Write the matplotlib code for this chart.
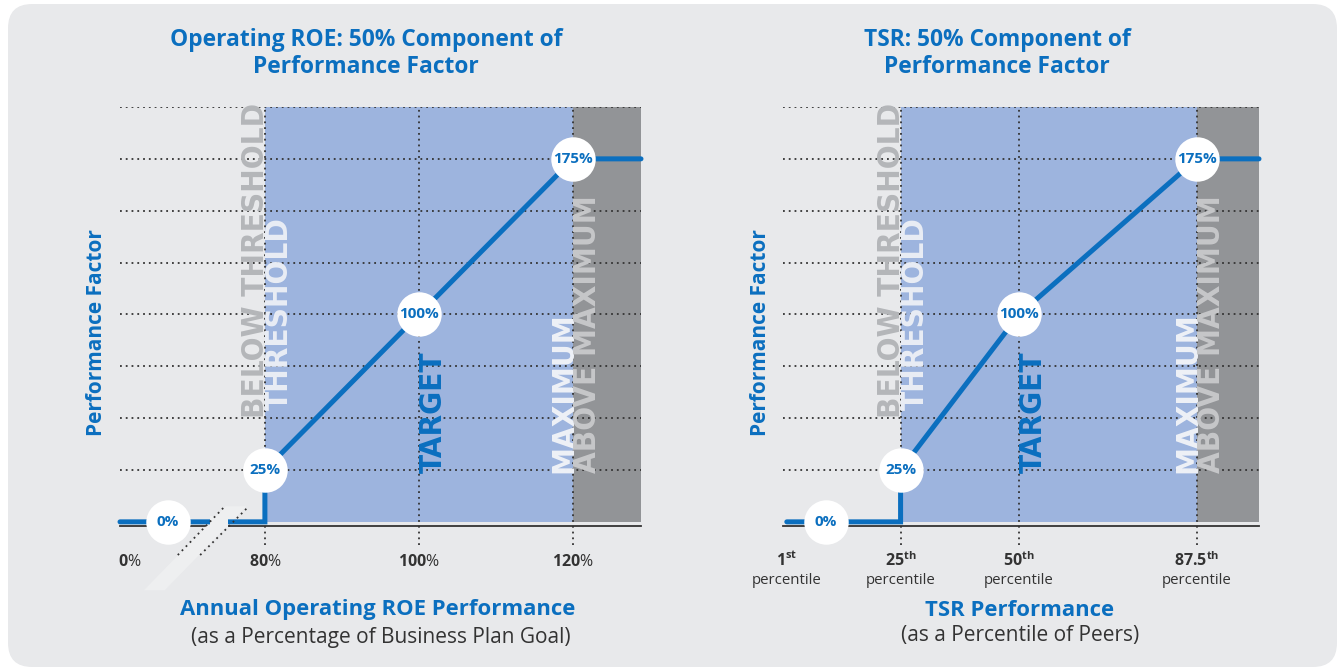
import numpy as np
import matplotlib
matplotlib.use("Agg")
import matplotlib.pyplot as plt
from matplotlib.patches import FancyBboxPatch, Polygon

# Fontes
plt.rcParams['font.family'] = ['Open Sans', 'DejaVu Sans']
plt.rcParams['mathtext.fontset'] = 'custom'
plt.rcParams['mathtext.rm'] = 'Open Sans'
plt.rcParams['mathtext.bf'] = 'Open Sans:bold'
COND = ['DejaVu Sans']

# Cores
BLUE = '#0b6fbf'
BAND = '#9db4de'
DARK = '#929497'
BG = '#e8e9eb'
INK = '#333333'

# Dados - ROE operacional
roe_ticks = [0, 80, 100, 120]
roe_tick_labels = ['0%', '80%', '100%', '120%']
roe_x = [80, 80, 100, 120]          # limiar, alvo, máximo
roe_y = [0, 25, 100, 175]
roe_xmax = 128.8
roe_xmin = 61.2                      # eixo quebrado: 0% fica aqui

# Dados - TSR
tsr_ticks = [1, 25, 50, 87.5]
tsr_tick_labels = ['1', '25', '50', '87.5']
tsr_x = [25, 25, 50, 87.5]
tsr_y = [0, 25, 100, 175]
tsr_xmin, tsr_xmax = 0.2, 100.6

grid_levels = [25, 50, 75, 100, 125, 150, 175, 200]
point_labels = ['0%', '25%', '100%', '175%']

fig = plt.figure(figsize=(13.41, 6.71), dpi=100)
fig.patch.set_facecolor('white')
fig.patches.append(FancyBboxPatch((8 / 1341, 4 / 671), 1329 / 1341, 663 / 671,
                                  boxstyle='round,pad=0,rounding_size=0.018',
                                  mutation_aspect=2.0,
                                  transform=fig.transFigure, fc=BG, ec='none', zorder=-10))

ax1 = fig.add_axes([120 / 1341, 1 - 526 / 671, 521 / 1341, 419 / 671])
ax2 = fig.add_axes([783 / 1341, 1 - 526 / 671, 476 / 1341, 419 / 671])

DOT = (0, (1.0, 2.2))


def draw_panel(ax, xmin, xmax, xs, ys, x_start, zero_label_x):
    ax.set_facecolor('none')
    ax.set_xlim(xmin, xmax)
    ax.set_ylim(-2, 200)
    for s in ['top', 'right', 'left']:
        ax.spines[s].set_visible(False)
    ax.spines['bottom'].set_color(INK)
    ax.spines['bottom'].set_linewidth(1.3)
    ax.set_yticks([])
    ax.set_xticks([])

    thr, tgt, mx = xs[1], xs[2], xs[3]
    ax.axvspan(thr, mx, ymin=2 / 202, ymax=1, color=BAND, zorder=1, lw=0)
    ax.axvspan(mx, xmax, ymin=2 / 202, ymax=1, color=DARK, zorder=1, lw=0)

    for g in grid_levels:
        ax.plot([xmin, xmax], [g, g], color=INK, lw=1.3, ls=DOT, zorder=2)
    for v in (thr, tgt, mx):
        ax.plot([v, v], [-11, 200], color=INK, lw=1.3, ls=DOT,
                zorder=2, clip_on=False)

    # linha do fator
    lx = [x_start, xs[0], xs[1], xs[2], xs[3], xmax]
    ly = [ys[0], ys[0], ys[1], ys[2], ys[3], ys[3]]
    ax.plot(lx, ly, color=BLUE, lw=3.6, solid_capstyle='round',
            solid_joinstyle='miter', zorder=4, clip_on=False)

    # rótulos das faixas
    kw = dict(rotation=90, family=COND, stretch='condensed', weight='bold', fontsize=22.5,
              textcoords='offset points', zorder=3, annotation_clip=False)
    ax.annotate('BELOW THRESHOLD', (thr, 50), xytext=(4, 0), ha='right', va='bottom',
                color='#b4b6b9', **kw)
    ax.annotate('THRESHOLD', (thr, 54), xytext=(0, 0), ha='left', va='bottom',
                color='#e9edf5', **kw)
    ax.annotate('TARGET', (tgt, 23.5), xytext=(0, 0), ha='left', va='bottom',
                color=BLUE, **kw)
    ax.annotate('MAXIMUM', (mx, 23.5), xytext=(4, 0), ha='right', va='bottom',
                color='#eef1f7', **kw)
    ax.annotate('ABOVE MAXIMUM', (mx, 23.5), xytext=(0, 0), ha='left', va='bottom',
                color='#c6c7c9', **kw)

    # círculos com os valores
    px = [zero_label_x, xs[1], xs[2], xs[3]]
    ax.plot(px, ys, 'o', ms=32, mfc='white', mec='none', zorder=5, clip_on=False)
    for x, y, t in zip(px, ys, point_labels):
        ax.text(x, y, t, ha='center', va='center', color=BLUE, fontsize=11,
                weight='bold', zorder=6)


draw_panel(ax1, roe_xmin, roe_xmax, roe_x, roe_y, roe_xmin, 67.4)
draw_panel(ax2, tsr_xmin, tsr_xmax, tsr_x, tsr_y, tsr_ticks[0], 9.3)

# quebra do eixo ROE
band = Polygon([[64.3, -33.0], [67.0, -33.0], [77.6, 7.5], [74.9, 7.5]], closed=True,
               fc='#eeeff0', ec='none', zorder=3, clip_on=False)
ax1.add_patch(band)
ax1.fill_between([72.9, 75.2], -3, 3, color='#eeeff0', zorder=4.5, lw=0, clip_on=False)
ax1.plot([68.7, 74.6], [-16, 6.7], color=INK, lw=1.3, ls=DOT, zorder=5, clip_on=False)
ax1.plot([71.6, 77.7], [-16, 6.7], color=INK, lw=1.3, ls=DOT, zorder=5, clip_on=False)

# rótulos do eixo x - ROE
for v, lab in zip(roe_ticks, roe_tick_labels):
    num = lab[:-1]
    x = v if v >= 80 else roe_xmin - 0.3
    ax1.text(x, -19.5, r'$\mathbf{%s}$%%' % num, ha='left' if v < 80 else 'center',
             va='center', color=INK, fontsize=11.5)

# rótulos do eixo x - TSR
for v, lab in zip(tsr_ticks, tsr_tick_labels):
    ax2.text(v, -18.5, r'$\mathbf{%s}^{\mathbf{%s}}$' % (lab, 'st' if lab == '1' else 'th'),
             ha='center', va='center', color=INK, fontsize=11.5)
    ax2.text(v, -28.5, 'percentile', ha='center', va='center', color=INK, fontsize=10.8)

# títulos
fig.text(366 / 1341, 1 - 53.5 / 671, 'Operating ROE: 50% Component of\nPerformance Factor',
         ha='center', va='center', color=BLUE, fontsize=16.4, weight='bold', linespacing=1.22)
fig.text(997 / 1341, 1 - 53.5 / 671, 'TSR: 50% Component of\nPerformance Factor',
         ha='center', va='center', color=BLUE, fontsize=16.4, weight='bold', linespacing=1.22)

fig.text(97 / 1341, 1 - 333 / 671, 'Performance Factor', rotation=90, ha='center',
         va='center', color=BLUE, fontsize=15, weight='bold')
fig.text(760 / 1341, 1 - 333 / 671, 'Performance Factor', rotation=90, ha='center',
         va='center', color=BLUE, fontsize=15, weight='bold')

fig.text(378 / 1341, 1 - 610 / 671, 'Annual Operating ROE Performance', ha='center',
         va='center', color=BLUE, fontsize=15.9, weight='bold')
fig.text(381 / 1341, 1 - 637 / 671, '(as a Percentage of Business Plan Goal)', ha='center',
         va='center', color=INK, fontsize=15)
fig.text(1020 / 1341, 1 - 610 / 671, 'TSR Performance', ha='center',
         va='center', color=BLUE, fontsize=15.9, weight='bold')
fig.text(1020 / 1341, 1 - 635 / 671, '(as a Percentile of Peers)', ha='center',
         va='center', color=INK, fontsize=15)

fig.savefig('out.png', dpi=100)
